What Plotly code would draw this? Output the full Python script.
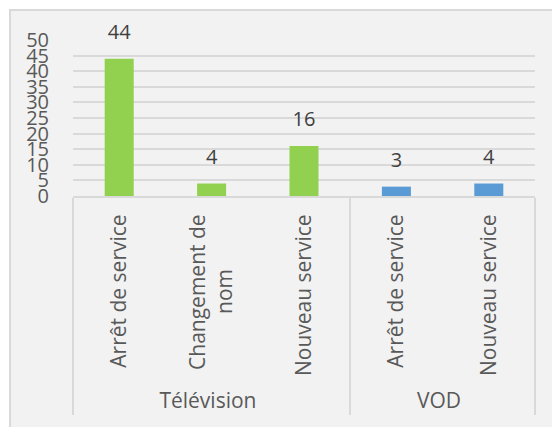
import plotly.graph_objects as go

groups = ["Télévision", "Télévision", "Télévision", "VOD", "VOD"]
categories = ["Arrêt de service", "Changement de nom", "Nouveau service",
              "Arrêt de service", "Nouveau service"]
values = [44, 4, 16, 3, 4]
group_colors = {"Télévision": "#92d050", "VOD": "#5b9bd5"}
y_ticks = [0, 5, 10, 15, 20, 25, 30, 35, 40, 45, 50]

FONT = "Open Sans"
# page body has an 8px default margin
W, H = 552, 419
ML, MR, MT, MB = 65, 25, 32, 231


def wrap_label(label):
    # Excel wraps the long label on two centred lines
    if label == "Changement de nom":
        return "Changement de<br>nom" + "\u00a0" * 10
    return label


labels = [wrap_label(c) for c in categories]

fig = go.Figure()
fig.add_trace(go.Bar(
    x=[groups, labels], y=values,
    marker=dict(color=[group_colors[g] for g in groups], line=dict(width=0)),
    hoverinfo="skip", showlegend=False,
))
fig.add_trace(go.Scatter(
    x=[groups, labels], y=values, mode="markers+text",
    text=[str(v) for v in values], textposition="top center",
    textfont=dict(family=FONT, size=20, color="#404040"),
    marker=dict(size=22, color="rgba(0,0,0,0)"),
    cliponaxis=False, hoverinfo="skip", showlegend=False,
))

pw = W - ML - MR
ph = H - MT - MB
fig.add_shape(type="rect", xref="paper", yref="paper",
              x0=(2 - ML) / pw, x1=(W + 10 - ML) / pw,
              y0=-(H + 20 - MT - ph) / ph, y1=(MT + ph - 2) / ph,
              fillcolor="#f2f2f2", line=dict(color="#d9d9d9", width=2),
              layer="below")

fig.update_layout(
    width=W, height=H,
    margin=dict(l=ML, r=MR, t=MT, b=MB, pad=0, autoexpand=False),
    paper_bgcolor="white", plot_bgcolor="rgba(0,0,0,0)",
    bargap=0.686,
    font=dict(family=FONT, size=20, color="#595959"),
    xaxis=dict(type="multicategory", tickangle=-90, showdividers=True,
               dividercolor="#d9d9d9", dividerwidth=2, automargin=False,
               showline=True, linecolor="#d9d9d9", linewidth=2,
               ticks="", showgrid=False, ticklabelstandoff=8,
               tickfont=dict(family=FONT, size=21, color="#595959")),
    yaxis=dict(range=[0, 50], tickvals=y_ticks, showgrid=True,
               gridcolor="#d9d9d9", gridwidth=2, zeroline=False,
               showline=False, ticks="", ticklabelstandoff=23,
               automargin=False,
               tickfont=dict(family=FONT, size=20, color="#595959")),
)

fig.write_html("out.html")
